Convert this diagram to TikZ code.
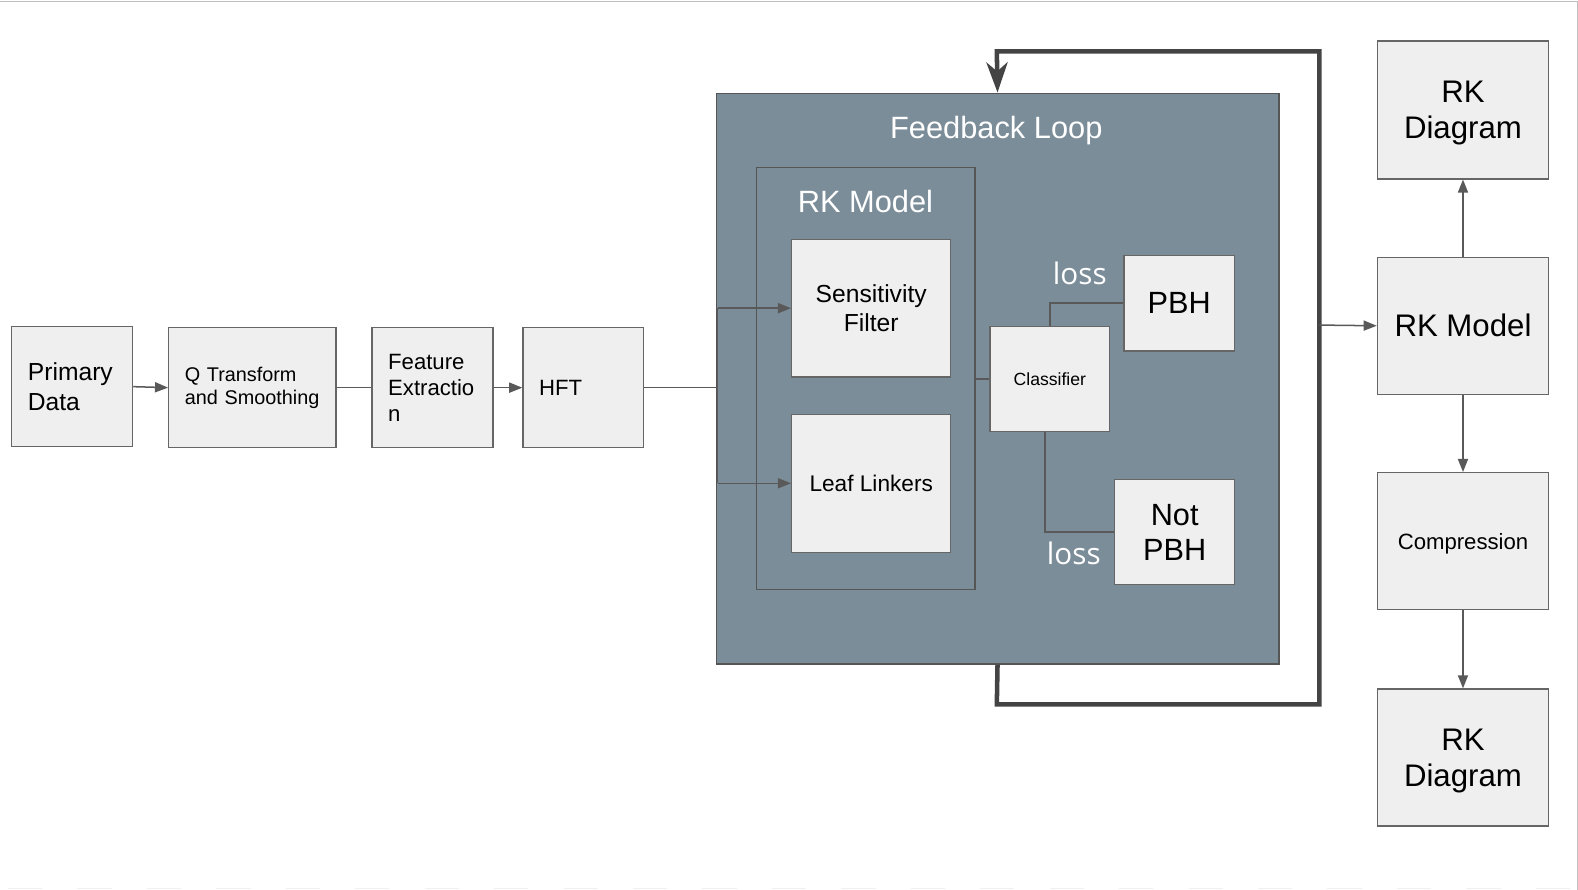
\documentclass[tikz,border=0pt]{standalone}
\usepackage{fontspec}
\setmainfont{Liberation Sans}
\newfontfamily\lossfont{Open Sans}
\usetikzlibrary{arrows.meta}
\definecolor{boxfill}{HTML}{EFEFEF}
\definecolor{boxline}{HTML}{666666}
\definecolor{slate}{HTML}{7C8D9A}
\definecolor{connc}{HTML}{595959}
\definecolor{loopc}{HTML}{444444}
\definecolor{frameline}{HTML}{555555}
\begin{document}
\begin{tikzpicture}[x=1pt,y=-1pt,
  box/.style={draw=boxline, fill=boxfill, line width=1.4pt, anchor=north west, inner sep=0pt, text=black},
  lbox/.style={box, align=left, inner xsep=16pt},
  cbox/.style={box, align=center},
  frame/.style={draw=frameline, line width=1.4pt, anchor=north west, inner sep=0pt},
  wire/.style={draw=connc, line width=1.5pt},
  arr/.style={-{Triangle[length=13pt,width=10pt]}},
  loopline/.style={draw=loopc, line width=4.5pt, line join=miter},
  wtitle/.style={text=white, anchor=base, font=\fontsize{30.6}{36}\selectfont},
  losslbl/.style={text=white, anchor=base, font=\lossfont\fontsize{29.5}{34}\selectfont}
]
\useasboundingbox (0,0) rectangle (1568,884);
\fill[white] (0,0) rectangle (1568,884);
\draw[draw=black!25, line width=1pt] (0,1) -- (1567,1) -- (1567,884);

% containers
\node[frame, fill=slate, minimum width=559pt, minimum height=567pt] (fb) at (711,92) {};
\node[wtitle] (fbt) at (990,138) {Feedback Loop};
\node[frame, minimum width=217pt, minimum height=419pt] (rkin) at (751,166) {};
\node[wtitle] (rkint) at (860,211) {RK Model};

% left chain
\node[lbox, text width=88pt, minimum height=119pt, font=\fontsize{24.5}{30}\selectfont] (pd) at (11,324) {Primary\\Data};
\node[lbox, text width=134pt, minimum height=119pt, font=\fontsize{19.7}{23}\selectfont] (qt) at (167,325) {Q Transform\\\mbox{and Smoothing}};
\node[lbox, text width=88pt, minimum height=119pt, font=\fontsize{22}{26}\selectfont] (fe) at (369,325) {Feature\\\mbox{Extractio}\\n};
\node[lbox, text width=88pt, minimum height=119pt, font=\fontsize{22}{26}\selectfont] (hft) at (519,325) {HFT};

% inside feedback loop
\node[cbox, minimum width=158pt, minimum height=137pt, font=\fontsize{24.5}{29}\selectfont] (sf) at (786,237) {Sensitivity\\Filter};
\node[cbox, minimum width=158pt, minimum height=137pt, font=\fontsize{22.5}{27}\selectfont] (ll) at (786,411) {Leaf Linkers};
\node[cbox, minimum width=119pt, minimum height=104pt, font=\fontsize{17.5}{21}\selectfont] (cl) at (983,324) {Classifier};
\node[cbox, minimum width=110pt, minimum height=95pt, font=\fontsize{30.5}{35}\selectfont] (pbh) at (1116,253) {PBH};
\node[cbox, minimum width=119pt, minimum height=104pt, font=\fontsize{30.5}{35}\selectfont] (npbh) at (1107,476) {Not\\PBH};
\node[losslbl] (loss1) at (1073,283) {loss};
\node[losslbl] (loss2) at (1067,561) {loss};

% right column
\node[cbox, minimum width=170pt, minimum height=137pt, text depth=0pt, font=\fontsize{31}{36}\selectfont] (rkd1) at (1368,40) {RK\\Diagram};
\node[cbox, minimum width=170pt, minimum height=136pt, font=\fontsize{31}{36}\selectfont] (rkm) at (1368,255) {RK Model};
\node[cbox, minimum width=170pt, minimum height=136pt, text depth=0pt, font=\fontsize{22}{26}\selectfont] (comp) at (1368,469) {Compression};
\node[cbox, minimum width=170pt, minimum height=136pt, text depth=0pt, font=\fontsize{31}{36}\selectfont] (rkd2) at (1368,684) {RK\\Diagram};

% connectors left chain
\draw[wire, arr] (pd.east) -- (qt.west);
\draw[wire] (qt.east) -- (fe.west |- qt.east);
\draw[wire, arr] (fe.east) -- (hft.west |- fe.east);
\draw[wire] (hft.east) -- (fb.west |- hft.east);
\draw[wire] ([xshift=2pt]fb.west |- sf.west) -- ([xshift=2pt]fb.west |- ll.west);
\draw[wire, arr] ([xshift=2pt]fb.west |- sf.west) -- (sf.west);
\draw[wire, arr] ([xshift=2pt]fb.west |- ll.west) -- (ll.west);

% classifier
\draw[wire] (rkin.east |- cl.west) -- (cl.west);
\draw[wire] (cl.north) |- (pbh.west);
\draw[wire] ([xshift=-5pt]cl.south) |- (npbh.west);

% feedback loop
\coordinate (lbot) at (990.5,700);
\coordinate (lright) at (1311,700);
\coordinate (ltop) at (1311,51);
\coordinate (lleft) at (990.5,51);
\coordinate (tap) at (1311,323);
\draw[loopline, -{Stealth[length=30pt,width=21pt,inset=9pt]}] (fb.south) -- (lbot) -- (lright) -- (ltop) -- (lleft) -- (fb.north);

% right column connectors
\draw[wire, arr] (tap) -- (rkm.west);
\draw[wire, arr] (rkm.north) -- (rkd1.south);
\draw[wire, arr] (rkm.south) -- (comp.north);
\draw[wire, arr] (comp.south) -- (rkd2.north);

% faint bottom dashes
\draw[draw=black!6, line width=1pt, dash pattern=on 34pt off 35pt] (8,883) -- (1560,883);
\end{tikzpicture}
\end{document}
